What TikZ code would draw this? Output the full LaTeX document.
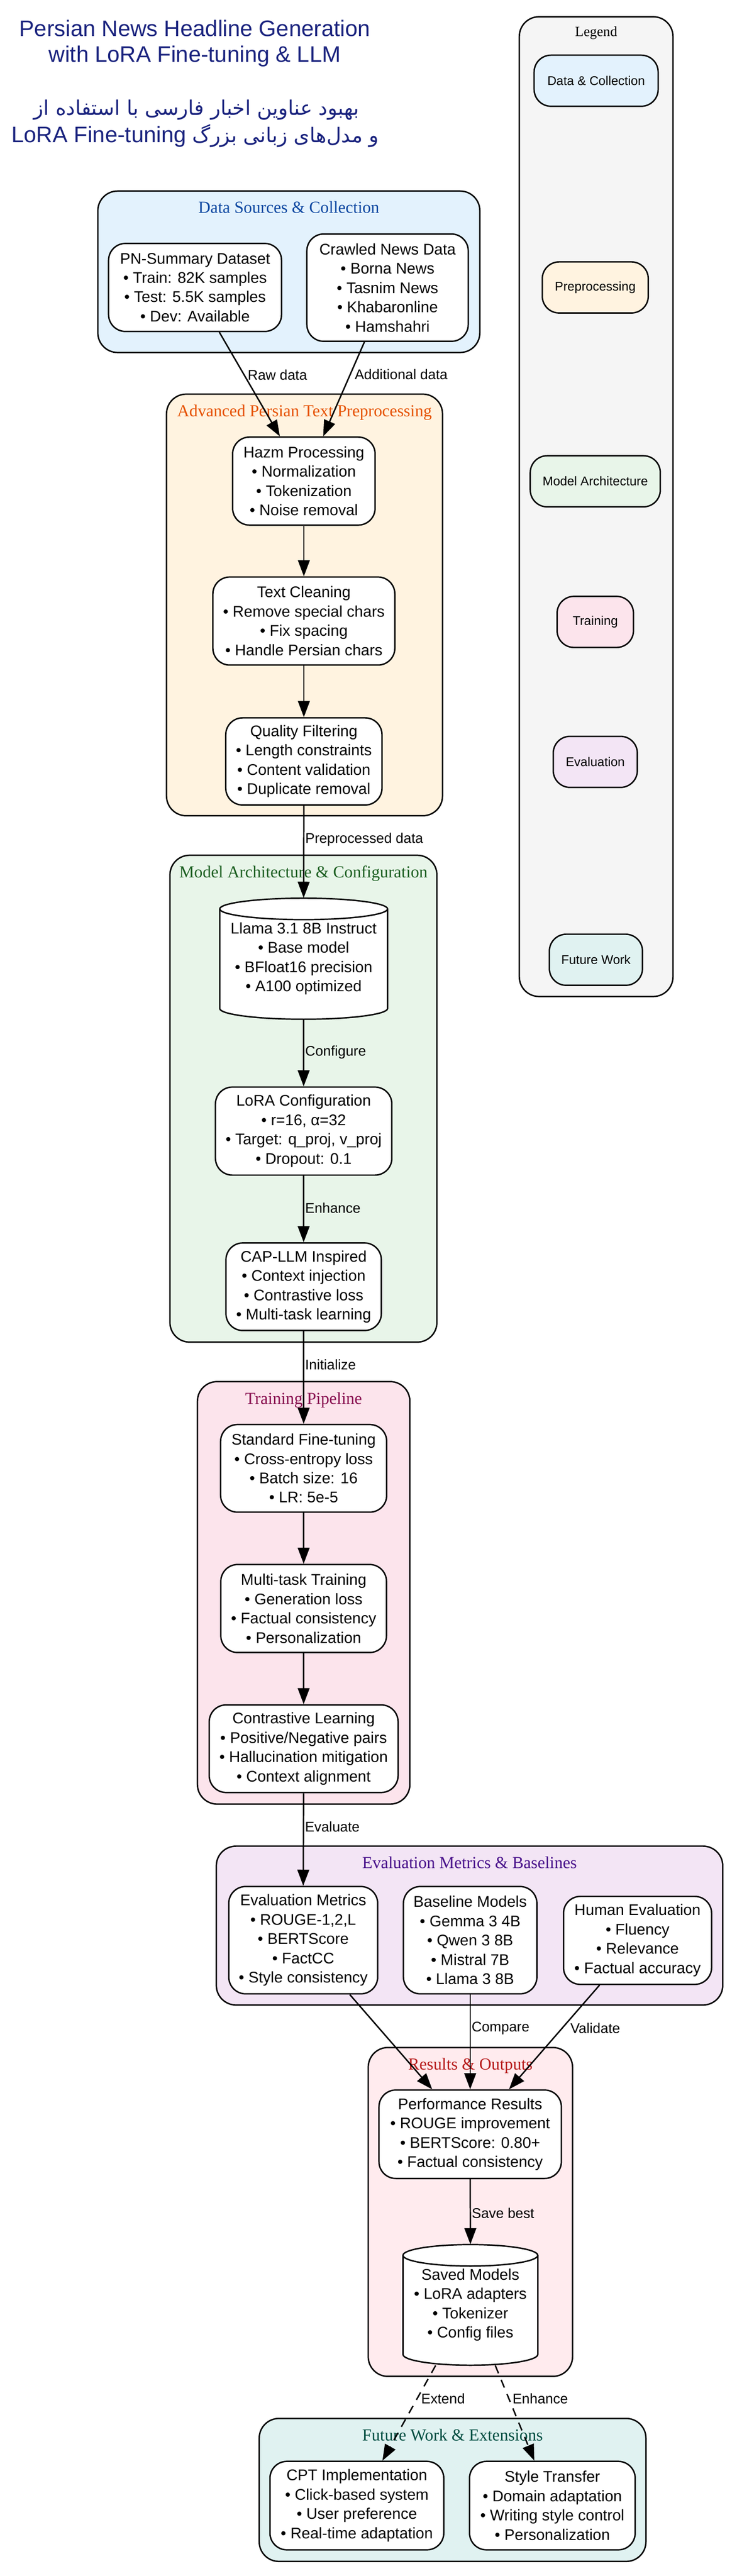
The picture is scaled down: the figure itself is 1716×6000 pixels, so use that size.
\documentclass[tikz,border=0pt]{standalone}
\usepackage{fontspec}
\setmainfont{Liberation Sans}
\newfontfamily\serifft{Liberation Serif}
\newfontfamily\fafont[Script=Arabic, Scale=0.9]{DejaVu Sans}
\usetikzlibrary{arrows.meta,calc}
\TeXXeTstate=1
\newcommand{\px}[1]{#1*0.30583pt}
\definecolor{titleC}{HTML}{1A237E}
\definecolor{dataF}{HTML}{E3F2FD}\definecolor{dataT}{HTML}{0D47A1}
\definecolor{prepF}{HTML}{FFF3E0}\definecolor{prepT}{HTML}{E65100}
\definecolor{modelF}{HTML}{E8F5E9}\definecolor{modelT}{HTML}{1B5E20}
\definecolor{trainF}{HTML}{FCE4EC}\definecolor{trainT}{HTML}{880E4F}
\definecolor{evalF}{HTML}{F3E5F5}\definecolor{evalT}{HTML}{4A148C}
\definecolor{resF}{HTML}{FFEBEE}\definecolor{resT}{HTML}{B71C1C}
\definecolor{futF}{HTML}{E0F2F1}\definecolor{futT}{HTML}{004D40}
\definecolor{legF}{HTML}{F5F5F5}
\tikzset{
 cluster/.style={draw=black, line width=1pt, rounded corners=14pt},
 clabel/.style={font=\serifft\fontsize{12}{14}\selectfont, anchor=base, inner sep=0},
 sz/.style 2 args={minimum width={\px{#1}}, minimum height={\px{#2}}},
 box/.style={draw=black, line width=1pt, fill=white, rounded corners=12pt, align=center, inner sep=0, font=\fontsize{11}{13.76}\selectfont},
 cylbody/.style={draw=black, line width=1pt, fill=white},
 cyltext/.style={align=center, inner sep=0, font=\fontsize{11}{13.76}\selectfont},
 legbox/.style={draw=black, line width=1pt, rounded corners=12pt, align=center, inner sep=0, font=\fontsize{9}{11}\selectfont, minimum height={\px{119}}},
 flow/.style={line width=1pt, -{Triangle[length=11.5pt,width=8.4pt]}},
 dashflow/.style={flow, dash pattern=on 6pt off 5pt},
 elabel/.style={font=\fontsize{10}{12}\selectfont, anchor=west, inner sep=0},
 title/.style={text=titleC, font=\fontsize{16}{19}\selectfont, anchor=base, inner sep=0},
}
\begin{document}
\begin{tikzpicture}[x=0.30583pt, y=-0.30583pt]
\useasboundingbox (0,0) rectangle (1716,6000);
% title
\node[title] (t1) at (454,84) {Persian News Headline Generation};
\node[title] (t2) at (454,144) {with LoRA Fine-tuning \& LLM};
\node[title] (t3) at (458,268) {\fafont\beginR بهبود عناوین اخبار فارسی با استفاده از\endR};
\node[title] (t4) at (455,332) {LoRA Fine-tuning {\fafont\beginR و مدل‌های زبانی بزرگ\endR}};
% clusters
\draw[cluster, fill=legF] (1210,39) rectangle (1568,2321);
\node[clabel, font=\serifft\fontsize{10}{12}\selectfont] (cleg) at (1389,84) {Legend};
\draw[cluster, fill=dataF] (228,445) rectangle (1118,821);
\node[clabel, text=dataT] (cdata) at (673,496) {Data Sources \& Collection};
\draw[cluster, fill=prepF] (388,918) rectangle (1031,1900);
\node[clabel, text=prepT] (cprep) at (709.5,970) {Advanced Persian Text Preprocessing};
\draw[cluster, fill=modelF] (396,1992) rectangle (1018,3126);
\node[clabel, text=modelT] (cmodel) at (707,2044) {Model Architecture \& Configuration};
\draw[cluster, fill=trainF] (460,3218) rectangle (955,4202);
\node[clabel, text=trainT] (ctrain) at (707.5,3270) {Training Pipeline};
\draw[cluster, fill=evalF] (504,4300) rectangle (1684,4670);
\node[clabel, text=evalT] (ceval) at (1094,4352) {Evaluation Metrics \& Baselines};
\draw[cluster, fill=resF] (858,4769) rectangle (1334,5535);
\node[clabel, text=resT] (cres) at (1096,4821) {Results \& Outputs};
\draw[cluster, fill=futF] (604,5633) rectangle (1505,5966);
\node[clabel, text=futT] (cfut) at (1054.5,5685) {Future Work \& Extensions};
% legend entries
\node[legbox, fill=dataF, minimum width={\px{289}}] (lg1) at (1389,188) {Data \& Collection};
\node[legbox, fill=prepF, minimum width={\px{247}}] (lg2) at (1387,669.5) {Preprocessing};
\node[legbox, fill=modelF, minimum width={\px{303}}] (lg3) at (1387,1121) {Model Architecture};
\node[legbox, fill=trainF, minimum width={\px{178}}] (lg4) at (1387,1448.5) {Training};
\node[legbox, fill=evalF, minimum width={\px{196}}] (lg5) at (1387,1774.5) {Evaluation};
\node[legbox, fill=futF, minimum width={\px{217}}] (lg6) at (1388.5,2235.5) {Future Work};
% data nodes
\node[box, sz={403}{205}] (pn) at (454.5,669.5) {PN-Summary Dataset\\• Train: 82K samples\\• Test: 5.5K samples\\• Dev: Available};
\node[box, sz={376}{250}] (crawl) at (903,670) {Crawled News Data\\• Borna News\\• Tasnim News\\• Khabaronline\\• Hamshahri};
% preprocessing
\node[box, sz={332}{205}] (hazm) at (708,1120.5) {Hazm Processing\\• Normalization\\• Tokenization\\• Noise removal};
\node[box, sz={424}{205}] (clean) at (708,1446.5) {Text Cleaning\\• Remove special chars\\• Fix spacing\\• Handle Persian chars};
\node[box, sz={364}{203}] (qual) at (708,1773.5) {Quality Filtering\\• Length constraints\\• Content validation\\• Duplicate removal};
% model
\draw[cylbody] (512,2117) -- (512,2349) .. controls (512,2362.8) and (599.5,2374) .. (707.5,2374) .. controls (815.5,2374) and (903,2362.8) .. (903,2349) -- (903,2117) .. controls (903,2103.2) and (815.5,2092) .. (707.5,2092) .. controls (599.5,2092) and (512,2103.2) .. (512,2117) -- cycle;
\draw[line width=1pt] (512,2117) .. controls (512,2130.8) and (599.5,2142) .. (707.5,2142) .. controls (815.5,2142) and (903,2130.8) .. (903,2117);
\node[cyltext, sz={391}{282}] (llama) at (707.5,2233) {Llama 3.1 8B Instruct\\• Base model\\• BFloat16 precision\\• A100 optimized};
\node[box, sz={411}{205}] (lora) at (707.5,2634.5) {LoRA Configuration\\• r=16, α=32\\• Target: q\_proj, v\_proj\\• Dropout: 0.1};
\node[box, sz={362}{204}] (cap) at (707.5,2997) {CAP-LLM Inspired\\• Context injection\\• Contrastive loss\\• Multi-task learning};
% training
\node[box, sz={387}{204}] (sft) at (707.5,3420) {Standard Fine-tuning\\• Cross-entropy loss\\• Batch size: 16\\• LR: 5e-5};
\node[box, sz={386}{205}] (mtl) at (707.5,3746.5) {Multi-task Training\\• Generation loss\\• Factual consistency\\• Personalization};
\node[box, sz={440}{204}] (contr) at (707.5,4073) {Contrastive Learning\\• Positive/Negative pairs\\• Hallucination mitigation\\• Context alignment};
% evaluation
\node[box, sz={347}{250}] (evm) at (706.5,4519) {Evaluation Metrics\\• ROUGE-1,2,L\\• BERTScore\\• FactCC\\• Style consistency};
\node[box, sz={311}{250}] (base) at (1095.5,4519) {Baseline Models\\• Gemma 3 4B\\• Qwen 3 8B\\• Mistral 7B\\• Llama 3 8B};
\node[box, sz={345}{205}] (human) at (1485.5,4519.5) {Human Evaluation\\• Fluency\\• Relevance\\• Factual accuracy};
% results
\node[box, sz={425}{206}] (perf) at (1095.5,4971) {Performance Results\\• ROUGE improvement\\• BERTScore: 0.80+\\• Factual consistency};
\draw[cylbody] (939,5253) -- (939,5484) .. controls (939,5497.8) and (1009.3,5509) .. (1096,5509) .. controls (1182.7,5509) and (1253,5497.8) .. (1253,5484) -- (1253,5253) .. controls (1253,5239.2) and (1182.7,5228) .. (1096,5228) .. controls (1009.3,5228) and (939,5239.2) .. (939,5253) -- cycle;
\draw[line width=1pt] (939,5253) .. controls (939,5266.8) and (1009.3,5278) .. (1096,5278) .. controls (1182.7,5278) and (1253,5266.8) .. (1253,5253);
\node[cyltext, sz={314}{281}] (saved) at (1096,5368.5) {Saved Models\\• LoRA adapters\\• Tokenizer\\• Config files};
% future
\node[box, sz={405}{206}] (cpt) at (831.5,5836) {CPT Implementation\\• Click-based system\\• User preference\\• Real-time adaptation};
\node[box, sz={386}{206}] (style) at (1287,5836) {Style Transfer\\• Domain adaptation\\• Writing style control\\• Personalization};
% edges
\draw[flow] ($(pn.south)+(56.5,0)$) -- node[elabel, pos=0.41, xshift=2.1pt] (e1) {Raw data} ($(hazm.north)+(-56,0)$);
\draw[flow] ($(crawl.south)+(-54,0)$) -- node[elabel, pos=0.345, xshift=2.75pt] (e2) {Additional data} ($(hazm.north)+(45,0)$);
\draw[flow] (hazm.south) -- (clean.north);
\draw[flow] (clean.south) -- (qual.north);
\draw[flow] (qual.south) -- node[elabel, pos=0.364, xshift=0.6pt] (e3) {Preprocessed data} (llama.north);
\draw[flow] (llama.south) -- node[elabel, pos=0.487, xshift=0.6pt] (e4) {Configure} (lora.north);
\draw[flow] (lora.south) -- node[elabel, pos=0.487, xshift=0.6pt] (e5) {Enhance} (cap.north);
\draw[flow] (cap.south) -- node[elabel, pos=0.36, xshift=0.6pt] (e6) {Initialize} (sft.north);
\draw[flow] (sft.south) -- (mtl.north);
\draw[flow] (mtl.south) -- (contr.north);
\draw[flow] (contr.south) -- node[elabel, pos=0.36, xshift=0.6pt] (e7) {Evaluate} (evm.north);
\draw[flow] ($(evm.south)+(108.5,0)$) -- ($(perf.north)+(-88.5,0)$);
\draw[flow] (base.south) -- node[elabel, pos=0.357, xshift=0.6pt] (e8) {Compare} (perf.north);
\draw[flow] ($(human.south)+(-88.5,0)$) -- node[elabel, pos=0.415, xshift=5.5pt] (e9) {Validate} ($(perf.north)+(90.5,0)$);
\draw[flow] (perf.south) -- node[elabel, pos=0.52, xshift=0.6pt] (e10) {Save best} (saved.north);
\draw[dashflow] ($(saved.south)+(-81,0)$) -- node[elabel, pos=0.35, xshift=2.5pt] (e11) {Extend} ($(cpt.north)+(59.5,0)$);
\draw[dashflow] ($(saved.south)+(58,0)$) -- node[elabel, pos=0.35, xshift=2.1pt] (e12) {Enhance} ($(style.north)+(-42,0)$);
\end{tikzpicture}
\end{document}
